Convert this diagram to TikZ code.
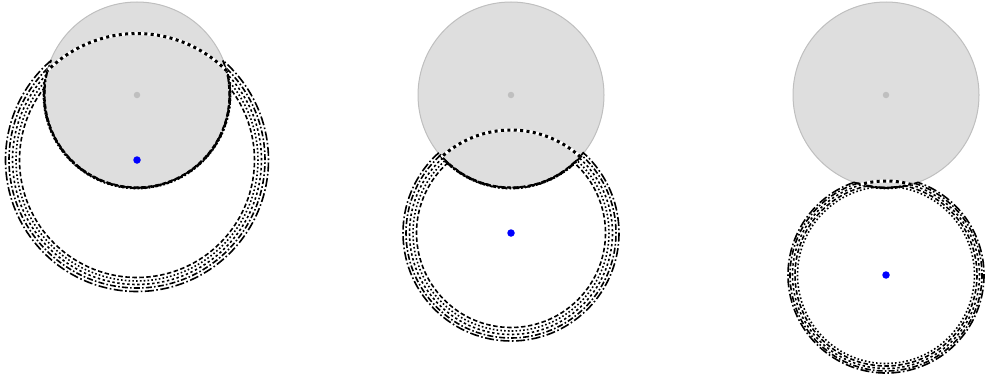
\documentclass[tikz,border=0pt]{standalone}
\usetikzlibrary{calc}
\definecolor{diskfill}{HTML}{DEDEDE}
\definecolor{diskedge}{HTML}{BFBFBF}
\tikzset{
  graydisk/.style={circle, fill=diskfill, draw=diskedge, line width=1pt, minimum size=186pt, inner sep=0pt},
  graydot/.style={circle, fill=diskedge, inner sep=0pt, minimum size=6.5pt},
  bluedot/.style={circle, fill=blue, inner sep=0pt, minimum size=7.5pt},
  ring/.style={black, line width=1.6pt},
  pa/.style={ring, dash pattern=on 4.5pt off 2.5pt},
  pb/.style={ring, dash pattern=on 1.6pt off 2.2pt},
  pc/.style={ring, dash pattern=on 6pt off 2.2pt on 1.6pt off 2.2pt},
  pd/.style={ring, dash pattern=on 2.4pt off 2.6pt},
  pe/.style={ring, dash pattern=on 9pt off 2.5pt on 1.6pt off 2.5pt},
  topdots/.style={black, line width=3pt, dash pattern=on 3pt off 3.4pt},
  topunder/.style={white, line width=3pt}
}
% crescent boundary: disc(b,r) minus gray disc (centre y=281, radius given)
\newcommand\mycres[5]{% #1 x, #2 y of blue centre, #3 radius, #4 style, #5 gray radius
  \pgfmathsetmacro\cdd{(281-#2)/100}
  \pgfmathsetmacro\crr{#3/100}
  \pgfmathsetmacro\cgg{#5/100}
  \pgfmathsetmacro\cpPhi{acos((\crr*\crr+\cdd*\cdd-\cgg*\cgg)/(2*\crr*\cdd))}
  \pgfmathsetmacro\cpPsi{acos((\cgg*\cgg+\cdd*\cdd-\crr*\crr)/(2*\cgg*\cdd))}
  \pgfmathsetmacro\cpSa{90+\cpPhi}
  \pgfmathsetmacro\cpEa{450-\cpPhi}
  \pgfmathsetmacro\cpGs{270+\cpPsi}
  \pgfmathsetmacro\cpGe{270-\cpPsi}
  \draw[#4] ($(#1pt,#2pt)+(\cpSa:#3pt)$) arc[start angle=\cpSa, end angle=\cpEa, radius=#3pt]
     arc[start angle=\cpGs, end angle=\cpGe, radius=#5pt] -- cycle;
}
\newcommand\mytop[3]{% #1 x, #2 y, #3 radius
  \pgfmathsetmacro\cdd{(281-#2)/100}
  \pgfmathsetmacro\crr{#3/100}
  \pgfmathsetmacro\cpPhi{acos((\crr*\crr+\cdd*\cdd-0.8649)/(2*\crr*\cdd))}
  \pgfmathsetmacro\cpSa{90-\cpPhi}
  \pgfmathsetmacro\cpEa{90+\cpPhi}
  \draw[topunder] ($(#1pt,#2pt)+(\cpSa:#3pt)$) arc[start angle=\cpSa, end angle=\cpEa, radius=#3pt];
  \draw[topdots] ($(#1pt,#2pt)+(\cpSa:#3pt)$) arc[start angle=\cpSa, end angle=\cpEa, radius=#3pt];
}
\begin{document}
\begin{tikzpicture}[x=1pt,y=1pt]
\useasboundingbox (0,0) rectangle (985,376);
% gray disks
\node[graydisk] (g1) at (137,281) {};
\node[graydisk] (g2) at (511,281) {};
\node[graydisk] (g3) at (886,281) {};
% panel 1 rings
\mycres{137}{216}{117.5}{pa}{92.2}
\mycres{137}{216}{121}{pb}{93.6}
\mycres{137}{216}{124.5}{pd}{92.8}
\mycres{137}{216}{128}{pc}{93.3}
\mycres{137}{216}{131.5}{pe}{92.5}
\mytop{137}{216}{126.5}
% panel 2 rings
\mycres{511}{143}{94.5}{pa}{92.3}
\mycres{511}{143}{98}{pb}{93.6}
\mycres{511}{143}{101.5}{pd}{92.8}
\mycres{511}{143}{105}{pc}{93.4}
\mycres{511}{143}{108}{pe}{92.5}
\mytop{511}{143}{103}
% panel 3 rings
\mycres{886}{101}{88.5}{pb}{93.5}
\mycres{886}{101}{91}{pa}{92.6}
\mycres{886}{101}{93.5}{pd}{93.2}
\mycres{886}{101}{96}{pc}{92.4}
\mycres{886}{101}{98}{pe}{93}
\mytop{886}{101}{94}
% centre dots
\node[graydot] (c1) at (g1) {};
\node[graydot] (c2) at (g2) {};
\node[graydot] (c3) at (g3) {};
\node[bluedot] (b1) at (137,216) {};
\node[bluedot] (b2) at (511,143) {};
\node[bluedot] (b3) at (886,101) {};
\end{tikzpicture}
\end{document}
